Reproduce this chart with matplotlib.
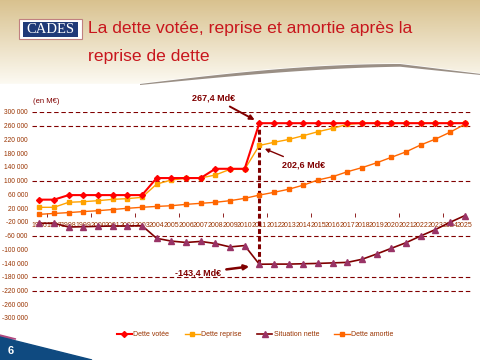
import numpy as np
import matplotlib
matplotlib.use("Agg")
import matplotlib.pyplot as plt
from matplotlib.patches import Rectangle, Polygon

plt.rcParams['font.family'] = ['Liberation Sans', 'DejaVu Sans']

# donnees (en M€)
annees = ['1996', '1997', '1998', '1999', '2000', '2001', '2002', '2003', '2004', '2005',
          '2006', '2007', '2008', '2009', '2010', '2011', '2012', '2013', '2014', '2015',
          '2016', '2017', '2018', '2019', '2020', '2021', '2022', '2023', '2024', '2025']
dette_votee = [44700, 44700, 58000, 58000, 58000, 58000, 58000, 58000, 107600, 107600,
               107600, 107600, 134600, 134600, 134600, 267400, 267400, 267400, 267400, 267400,
               267400, 267400, 267400, 267400, 267400, 267400, 267400, 267400, 267400, 267400]
dette_reprise = [22400, 22400, 37000, 38800, 41700, 45600, 47600, 51500, 90000, 102000,
                 107000, 107800, 116500, 133000, 133000, 202600, 211700, 220000, 231000, 242700,
                 252500, 264000, 267400, 267400, 267400, 267400, 267400, 267400, 267400, 267400]
situation_nette = [-24000, -24000, -35000, -34000, -33000, -32000, -32000, -31000, -68000, -76000,
                   -80000, -77000, -83000, -93000, -89000, -143400, -143000, -143000, -142000, -141000,
                   -139500, -138000, -129000, -113600, -97000, -80700, -61000, -42500, -21300, -2000]
dette_amortie = [2000, 4500, 7000, 10000, 12500, 16000, 19500, 22500, 25000, 27000,
                 31000, 34000, 37000, 41700, 48500, 58000, 66000, 75000, 87000, 102000,
                 111600, 126000, 138000, 152000, 168000, 184000, 204000, 221000, 241000, 264000]
grille = [300000, 260000, 100000, -60000, -180000, -220000]

brun = '#993300'
bordeaux = '#800000'

fig = plt.figure(figsize=(4.81, 3.6), dpi=100)

# fond de la diapo
bg = fig.add_axes([0, 0, 1, 1])
bg.set_xlim(0, 481)
bg.set_ylim(360, 0)
bg.axis('off')
grad = np.linspace(0, 1, 100).reshape(-1, 1)
top = np.array([0.85, 0.76, 0.56])
bot = np.array([0.99, 0.98, 0.95])
img = top + (bot - top) * grad[..., None]
img = np.repeat(img, 2, axis=1)
bg.imshow(img, extent=[0, 481, 84, 0], aspect='auto', zorder=0)
xs = np.linspace(140, 481, 60)
ys = 84 - 20 * np.sin(np.clip((xs - 140) / 260, 0, 1) * np.pi / 2) + np.clip((xs - 400) / 81, 0, 1) * 10
bg.add_patch(Polygon(list(zip(xs, ys)) + [(481, 90), (140, 90)], closed=True, color='white', zorder=1))
bg.add_patch(Polygon(list(zip(xs, ys)) + list(zip(xs[::-1], ys[::-1] + 1 + 2.5 * np.sin(np.linspace(0, np.pi, 60))[::-1])),
                     closed=True, color='#9a8f85', lw=0, zorder=2))
bg.add_patch(Rectangle((0, 84), 481, 280, color='white', zorder=1))

# logo
bg.add_patch(Rectangle((19, 19), 63, 20, facecolor='white', edgecolor='#c08080', lw=0.8, zorder=3))
bg.add_patch(Rectangle((23, 21.5), 55, 15, facecolor='#1f3a78', zorder=4))
bg.text(50.5, 29.5, 'CADES', color='white', fontsize=10.5, family='Liberation Serif',
        ha='center', va='center', zorder=5)

bg.text(88, 29, 'La dette votée, reprise et amortie après la', color='#c8161d',
        fontsize=12.6, ha='left', va='center', zorder=5)
bg.text(88, 57, 'reprise de dette', color='#c8161d', fontsize=12.6, ha='left', va='center', zorder=5)

# coin bas gauche
bg.add_patch(Polygon([(0, 335), (16, 339), (0, 339)], closed=True, color='#b04a80', zorder=2))
bg.add_patch(Polygon([(0, 337), (92, 360), (0, 360)], closed=True, color='#0f4a80', zorder=3))
bg.text(11, 351, '6', color='white', fontsize=8, fontweight='bold', ha='center', va='center', zorder=4)

# graphique
ax = fig.add_axes([32 / 481, 1 - 318 / 360, 440 / 481, 206 / 360])
ax.patch.set_alpha(0)
x = np.arange(len(annees))

for g in grille:
    ax.axhline(g, color=bordeaux, lw=0.8, ls=(0, (4, 2.5)), zorder=1)

ax.plot(x, dette_votee, color='#ff0000', lw=1.5, marker='D', ms=3, label='Dette votée', zorder=5)
ax.plot(x, dette_reprise, color='#ffa200', lw=1, marker='s', ms=3.5, label='Dette reprise', zorder=4)
ax.plot(x, situation_nette, color=bordeaux, lw=1.2, marker='^', ms=4.5, mfc='#993366', mec='#993366',
        label='Situation nette', zorder=4)
ax.plot(x, dette_amortie, color='#ff6600', lw=1, marker='s', ms=3.5, label='Dette amortie', zorder=4)

ax.plot([15, 15], [situation_nette[15], dette_votee[15]], color=bordeaux, lw=2.2,
        ls=(0, (1.6, 0.9)), zorder=3)

ax.set_xlim(-0.5, 29.5)
ax.set_ylim(-300000, 300000)
ax.set_yticks(np.arange(-300000, 300001, 40000))
ax.set_yticklabels([f"{v:,}".replace(',', ' ') for v in np.arange(-300000, 300001, 40000)])
ax.set_xticks(x)
ax.set_xticklabels(annees)
ax.set_xticks(np.arange(0.5, 30, 3), minor=True)
for s in ['top', 'right', 'left']:
    ax.spines[s].set_visible(False)
ax.spines['bottom'].set_position(('data', 0))
ax.spines['bottom'].set_color('none')
ax.tick_params(axis='y', length=0, pad=3, labelsize=4.8, labelcolor=brun)
ax.tick_params(axis='x', which='major', length=0, pad=5, labelsize=5, labelcolor=brun)
ax.tick_params(axis='x', which='minor', length=2.5, direction='inout', color=bordeaux)

ax.text(-0.45, 330000, '(en M€)', color=bordeaux, fontsize=5.5, ha='left', va='center')

fl = dict(color=bordeaux, fontsize=6.5, fontweight='bold', ha='center', va='center', annotation_clip=False)
ax.annotate('267,4 Md€', xy=(14.85, 273000), xytext=(11.9, 341000),
            arrowprops=dict(arrowstyle='-|>', color=bordeaux, lw=1.4, mutation_scale=7), **fl)
ax.annotate('202,6 Md€', xy=(15.2, 196000), xytext=(18.0, 146000),
            arrowprops=dict(arrowstyle='-|>', color=bordeaux, lw=1.0, mutation_scale=6), **fl)
ax.annotate('-143,4 Md€', xy=(14.5, -149000), xytext=(10.8, -169000),
            arrowprops=dict(arrowstyle='-|>', color=bordeaux, lw=1.8, mutation_scale=7), **fl)

leg = fig.legend(loc='center', bbox_to_anchor=(255 / 481, 1 - 335 / 360), ncol=4, frameon=False,
                 fontsize=5, handlelength=2.2, columnspacing=2.2, handletextpad=0.2)
for t in leg.get_texts():
    t.set_color(brun)

fig.savefig('out.png', dpi=100)
